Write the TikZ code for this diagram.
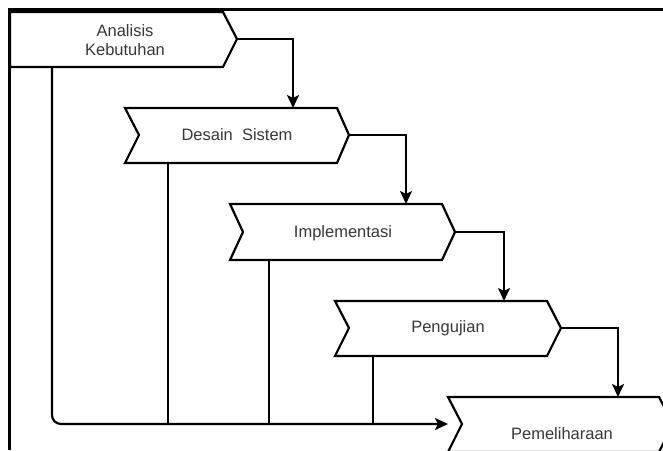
\documentclass[tikz,border=0pt]{standalone}
\usepackage{fontspec}
\setmainfont{Liberation Sans}
\usetikzlibrary{arrows.meta}
\tikzset{
  stepshape/.style={draw=black, line width=2.2pt, fill=white, line join=miter},
  conn/.style={draw=black, line width=2.2pt},
  arr/.style={conn, -{Stealth[length=13pt,width=12pt,inset=3pt]}},
  lbl/.style={text=black!78, font=\fontsize{16.5}{19}\selectfont, align=center, inner sep=0pt},
  frameline/.style={draw=black, line width=2.2pt}
}
\begin{document}
\begin{tikzpicture}[x=1pt,y=-1pt]
\useasboundingbox (0,0) rectangle (663,450);
\clip (0,0) rectangle (663,450);
\fill[white] (0,0) rectangle (663,450);
% frame
\draw[frameline] (9.5,450) -- (9.5,9.5) -- (663,9.5);
% box 1
\coordinate (b1tip) at (237,39);
\coordinate (b1bot) at (52,67);
\path[stepshape] (10,12) -- (223,12) -- (b1tip) -- (223,67) -- (10,67) -- cycle;
\node[lbl] (t1) at (125,40) {Analisis\\Kebutuhan};
% box 2
\coordinate (b2top) at (293,108);
\coordinate (b2tip) at (349,135);
\coordinate (b2bot) at (168,163);
\path[stepshape] (125,108) -- (337,108) -- (b2tip) -- (337,163) -- (125,163) -- (139,135) -- cycle;
\node[lbl] (t2) at (237,135) {Desain\ \ Sistem};
% box 3
\coordinate (b3top) at (406,204);
\coordinate (b3tip) at (455,232);
\coordinate (b3bot) at (269,260);
\path[stepshape] (230,204) -- (442,204) -- (b3tip) -- (442,260) -- (230,260) -- (243,232) -- cycle;
\node[lbl] (t3) at (343,233) {Implementasi};
% box 4
\coordinate (b4top) at (504,301);
\coordinate (b4tip) at (561,328);
\coordinate (b4bot) at (373,356);
\path[stepshape] (335,301) -- (547,301) -- (b4tip) -- (547,356) -- (335,356) -- (349,328) -- cycle;
\node[lbl] (t4) at (448,328) {Pengujian};
% box 5
\coordinate (b5top) at (618,397);
\coordinate (b5in) at (448,424);
\path[stepshape] (448,397) -- (659,397) -- (673,424) -- (659,452) -- (448,452) -- (462,424) -- cycle;
\node[lbl] (t5) at (562,434) {Pemeliharaan};
% connectors between steps
\draw[arr] (b1tip) -| (b2top);
\draw[arr] (b2tip) -| (b3top);
\draw[arr] (b3tip) -| (b4top);
\draw[arr] (b4tip) -| (b5top);
% bottom line
\coordinate (j2) at (168,424);
\coordinate (j3) at (269,424);
\coordinate (j4) at (373,424);
\draw[arr, rounded corners=9pt] (b1bot) |- (b5in);
\draw[conn] (b2bot) -- (j2);
\draw[conn] (b3bot) -- (j3);
\draw[conn] (b4bot) -- (j4);
\end{tikzpicture}
\end{document}
